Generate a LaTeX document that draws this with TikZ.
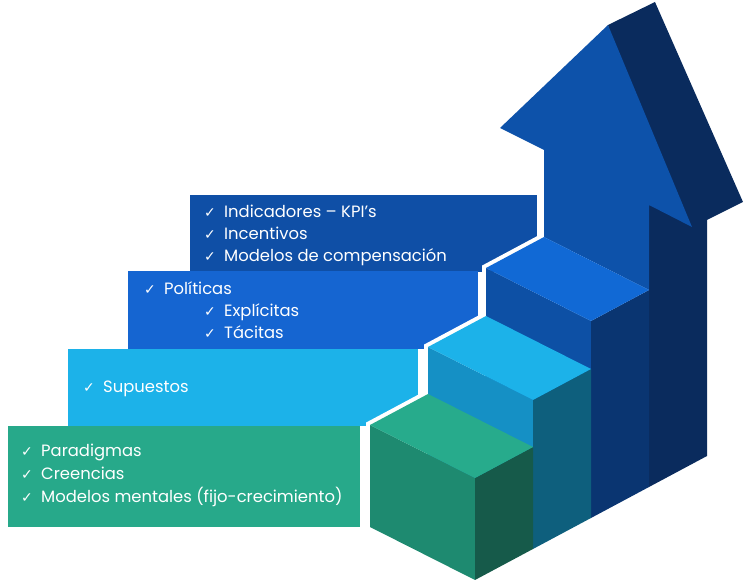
\documentclass[tikz,border=0pt]{standalone}
\usepackage{fontspec}
\setmainfont{Poppins}
\newfontfamily\symfont{DejaVu Sans}
\usepackage{tikz}
\definecolor{bandA}{HTML}{27A98A}
\definecolor{bandB}{HTML}{1CB2E9}
\definecolor{bandC}{HTML}{1565D1}
\definecolor{bandD}{HTML}{0F4FA6}
\definecolor{grnTop}{HTML}{27AB8C}
\definecolor{grnFront}{HTML}{1E8A70}
\definecolor{grnSide}{HTML}{165A4A}
\definecolor{cyTop}{HTML}{1CB2E9}
\definecolor{cyFront}{HTML}{1590C5}
\definecolor{cySide}{HTML}{0E5F7D}
\definecolor{blTop}{HTML}{1169D5}
\definecolor{blFront}{HTML}{0D50A5}
\definecolor{blSide}{HTML}{0A3571}
\definecolor{arFront}{HTML}{0D52AA}
\definecolor{arSide}{HTML}{0A2B5D}
\tikzstyle{lbl}     = [text=white,anchor=base west,inner sep=0pt,font=\fontsize{16.4}{19}\selectfont]
\tikzstyle{gap}     = [white,line width=8pt,line join=miter]
\newcommand{\chk}{\makebox[20pt][l]{\symfont\fontsize{14}{14}\selectfont ✓}}

\begin{document}
\begin{tikzpicture}[x=1pt,y=-1pt]
          \useasboundingbox (0,0) rectangle (748,585);
          \fill[bandD](190,195)rectangle(537,272);
          \fill[bandC](128,271)rectangle(478,349);
          \fill[bandB](68,349)rectangle(418,426);
          \fill[bandA](8,426)rectangle(360,527);
          \fill[arSide](608,25)--(655,2)--(743,202)--(707,220)--(707,456)--(649,487)--(649,205)--cycle;
          \fill[arFront](544,237)--(544,150)--(500,128)--(608,25)--(692,227)--(649,205)--(649,290)--cycle;
          \draw[gap](486,465)--(486,268)--(544,237);
          \fill[blFront](486,268)--(591,321)--(591,518)--(486,465)--cycle;
          \fill[blSide](591,321)--(649,290)--(649,487)--(591,518)--cycle;
          \fill[blTop](486,268)--(544,237)--(649,290)--(591,321)--cycle;
          \draw[gap](428,496)--(428,347)--(486,316);
          \fill[cyFront](428,347)--(533,400)--(533,549)--(428,496)--cycle;
          \fill[cySide](533,400)--(591,369)--(591,518)--(533,549)--cycle;
          \fill[cyTop](428,347)--(486,316)--(591,369)--(533,400)--cycle;
          \draw[gap](370,527)--(370,425)--(428,394);
          \fill[grnFront](370,425)--(475,478)--(475,580)--(370,527)--cycle;
          \fill[grnSide](475,478)--(533,447)--(533,549)--(475,580)--cycle;
          \fill[grnTop](370,425)--(428,394)--(533,447)--(475,478)--cycle;
          \node[lbl](kpi)at(204,218){\chk Indicadores – KPI’s};
          \node[lbl](inc)at(204,240){\chk Incentivos};
          \node[lbl](comp)at(204,262){\chk Modelos de compensación};
          \node[lbl](pol)at(144,295){\chk Políticas};
          \node[lbl](expl)at(204,317){\chk Explícitas};
          \node[lbl](tac)at(204,339){\chk Tácitas};
          \node[lbl](sup)at(83,393){\chk Supuestos};
          \node[lbl](par)at(21,457){\chk Paradigmas};
          \node[lbl](cre)at(21,480){\chk Creencias};
          \node[lbl](ment)at(21,503){\chk Modelos mentales (fijo-crecimiento)};
      \end{tikzpicture}
\end{document}
